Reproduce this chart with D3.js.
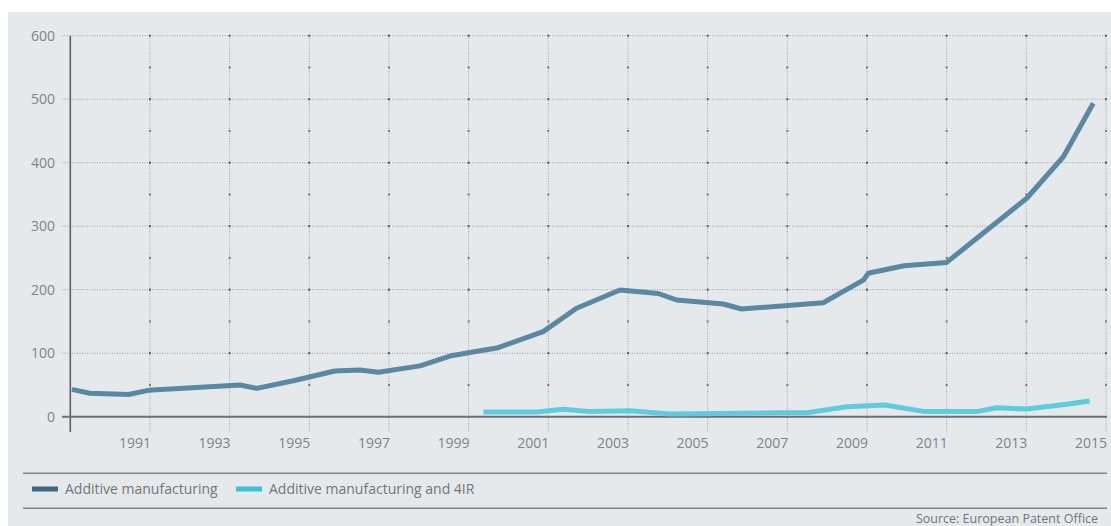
<!DOCTYPE html>
<html>
<head>
<meta charset="utf-8">
<script src="https://cdn.jsdelivr.net/npm/d3@7"></script>
<style>
  body { margin: 0; background: #fff; }
  svg { display: block; font-family: "Open Sans", sans-serif; }
</style>
</head>
<body>
<svg id="chart" width="1111" height="526"></svg>
<script>
// patent filings (x = fractional year)
var amYears = [1989.04, 1989.49, 1990.46, 1990.96, 1993.26, 1993.68, 1994.6, 1995.64, 1996.27, 1996.73,
  1997.78, 1998.53, 1999.03, 1999.74, 2000.87, 2001.71, 2002.8, 2003.76, 2004.22, 2005.39,
  2005.85, 2007.9, 2008.91, 2009.03, 2009.93, 2011.0, 2013.01, 2013.93, 2014.68];
var amValues = [43, 37, 35, 41.5, 50, 44.6, 56.7, 72, 73.5, 70,
  80, 95.5, 101, 108.7, 134, 170.7, 199.5, 194, 183.8, 177.5,
  169.6, 179.5, 215, 225.8, 237.8, 243, 344, 409.4, 493.5];

var am4Years = [1999.37, 2000.71, 2001.38, 2002.05, 2003.05, 2004.06, 2006.82, 2007.49, 2008.49,
  2009.45, 2010.46, 2011.75, 2012.26, 2013.01, 2014.01, 2014.59];
var am4Values = [7.4, 7.4, 11.6, 8, 9.5, 4.2, 6.3, 6.3, 15.7,
  18.4, 8, 8, 14, 12, 19.5, 24.7];

var yTicks = [0, 100, 200, 300, 400, 500, 600];
var xTicks = [1991, 1993, 1995, 1997, 1999, 2001, 2003, 2005, 2007, 2009, 2011, 2013, 2015];
var seriesNames = ['Additive manufacturing', 'Additive manufacturing and 4IR'];

var svg = d3.select('#chart');

// grey panel
svg.append('rect').attr('x', 8).attr('y', 12).attr('width', 1103).attr('height', 514).attr('fill', '#e6e9ec');

var x = d3.scaleLinear().domain([1989, 2015]).range([70.3, 1106]);
var y = d3.scaleLinear().domain([0, 600]).range([416.7, 35.7]);

// horizontal grid
svg.append('g').selectAll('line').data(yTicks.filter(d => d > 0)).join('line')
  .attr('x1', 62).attr('x2', 1107)
  .attr('y1', d => y(d)).attr('y2', d => y(d))
  .attr('stroke', '#9a9ea3').attr('stroke-width', 1).attr('stroke-dasharray', '1,1.5');

// vertical grid
svg.append('g').selectAll('line').data(xTicks).join('line')
  .attr('x1', d => x(d)).attr('x2', d => x(d))
  .attr('y1', 35.7).attr('y2', 432)
  .attr('stroke', '#9a9ea3').attr('stroke-width', 1).attr('stroke-dasharray', '1,1.5');

// little dark dots on the vertical grid lines
var dots = [];
xTicks.forEach(function(t) { d3.range(50, 601, 50).forEach(function(v) { dots.push([t, v]); }); });
svg.append('g').selectAll('rect').data(dots).join('rect')
  .attr('x', d => x(d[0]) - 1).attr('y', d => y(d[1]) - 1)
  .attr('width', 2).attr('height', 2)
  .attr('fill', d => d[1] % 100 == 0 ? '#555a60' : '#777c82');

// y axis + baseline
svg.append('line').attr('x1', 70.3).attr('x2', 70.3).attr('y1', 35.7).attr('y2', 432)
  .attr('stroke', '#5a5f66').attr('stroke-width', 1.6);
svg.append('line').attr('x1', 62).attr('x2', 1107).attr('y1', y(0)).attr('y2', y(0))
  .attr('stroke', '#6a6f75').attr('stroke-width', 2);

// tick labels
svg.append('g').selectAll('text').data(yTicks).join('text')
  .attr('x', 55).attr('y', d => y(d) + 5)
  .attr('text-anchor', 'end').attr('font-size', '14px').attr('fill', '#7d838a')
  .text(d => d);

svg.append('g').selectAll('text').data(xTicks).join('text')
  .attr('x', d => x(d) + 1).attr('y', 448)
  .attr('text-anchor', 'end').attr('font-size', '14px').attr('fill', '#7d838a')
  .text(d => d);

// lines
var line = d3.line().x(d => x(d[0])).y(d => y(d[1]));

svg.append('path').datum(d3.zip(am4Years, am4Values))
  .attr('d', line).attr('fill', 'none')
  .attr('stroke', '#5ecbe0').attr('stroke-width', 5).attr('stroke-linejoin', 'round');

svg.append('path').datum(d3.zip(amYears, amValues))
  .attr('d', line).attr('fill', 'none')
  .attr('stroke', '#5a87a1').attr('stroke-width', 5).attr('stroke-linejoin', 'round');

// legend
svg.append('line').attr('x1', 23).attr('x2', 1107).attr('y1', 473.3).attr('y2', 473.3)
  .attr('stroke', '#7f858a').attr('stroke-width', 1.6);
svg.append('line').attr('x1', 23).attr('x2', 1107).attr('y1', 508.3).attr('y2', 508.3)
  .attr('stroke', '#7f858a').attr('stroke-width', 1.6);

var legendX = [32, 236];
var legendCol = ['#3e6883', '#3cc0da'];
var lg = svg.append('g').selectAll('g').data(seriesNames).join('g')
  .attr('transform', (d, i) => 'translate(' + legendX[i] + ',489)');
lg.append('rect').attr('x', 0).attr('y', -2.5).attr('width', 26).attr('height', 5)
  .attr('fill', (d, i) => legendCol[i]);
lg.append('text').attr('x', 33).attr('y', 5).attr('font-size', '14px').attr('fill', '#6f757b')
  .text(d => d);

svg.append('text').attr('x', 1098).attr('y', 523)
  .attr('text-anchor', 'end').attr('font-size', '12.5px').attr('fill', '#6f757b')
  .text('Source: European Patent Office');
</script>
</body>
</html>
